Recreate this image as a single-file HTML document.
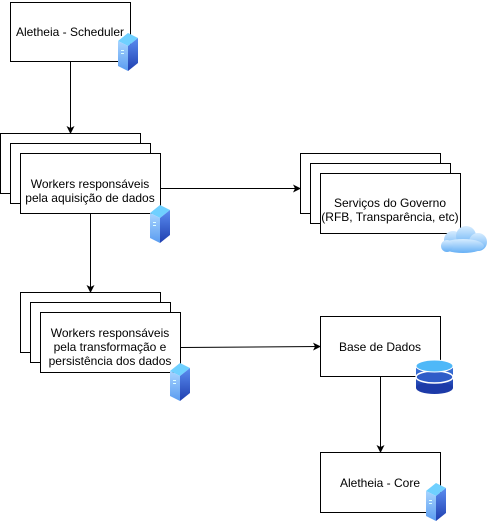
<!DOCTYPE html>
<html><head><meta charset="utf-8"><style>body{margin:0;background:#fff}svg{display:block}text{font-family:"Liberation Sans",sans-serif;font-size:12px;fill:#000}</style></head><body>
<svg width="489" height="524" viewBox="0 0 489 524" xmlns="http://www.w3.org/2000/svg">
<defs>
<linearGradient id="sv" x1="0" y1="0" x2="0" y2="1"><stop offset="0" stop-color="#5b8df0"/><stop offset="1" stop-color="#1f3fb0"/></linearGradient>
<linearGradient id="sl" x1="0" y1="0" x2="0" y2="1"><stop offset="0" stop-color="#a8d4ff"/><stop offset="1" stop-color="#5a9cf0"/></linearGradient>
<linearGradient id="cl" x1="0" y1="0" x2="0" y2="1"><stop offset="0" stop-color="#d6ecff"/><stop offset="1" stop-color="#66b0f5"/></linearGradient>
<linearGradient id="db" x1="0" y1="0" x2="0" y2="1"><stop offset="0" stop-color="#3f7be0"/><stop offset="1" stop-color="#1c3aa8"/></linearGradient>
<g id="srv"><polygon points="0,8 10,0 20,5 10,13" fill="#6fd0ff"/><polygon points="0,8 10,13 10,38 0,33" fill="url(#sl)"/><polygon points="10,13 20,5 20,30 10,38" fill="url(#sv)"/><rect x="3" y="17" width="3" height="1" fill="#dff"/><rect x="3" y="20" width="3" height="1" fill="#dff"/></g>
<marker id="ar" markerWidth="8" markerHeight="8" refX="7" refY="4" orient="auto" markerUnits="userSpaceOnUse"><path d="M0,0 L8,4 L0,8 L2,4z" fill="#000"/></marker>
</defs>
<g fill="#fff" stroke="#000" stroke-width="1">
<rect x="10.5" y="2.5" width="120" height="59"/>
<rect x="0.5" y="133.5" width="140" height="60"/><rect x="10.5" y="143.5" width="140" height="60"/><rect x="20.5" y="153.5" width="140" height="60"/>
<rect x="300.5" y="153.5" width="140" height="60"/><rect x="310.5" y="163.5" width="140" height="60"/><rect x="320.5" y="173.5" width="140" height="60"/>
<rect x="20.5" y="292.5" width="140" height="60"/><rect x="30.5" y="302.5" width="140" height="60"/><rect x="40.5" y="312.5" width="140" height="60"/>
<rect x="320.5" y="316.5" width="120" height="60"/>
<rect x="320.5" y="452.5" width="120" height="60"/>
</g>
<g stroke="#000" fill="none" marker-end="url(#ar)">
<line x1="70.5" y1="62" x2="70.5" y2="133"/>
<line x1="161" y1="188.5" x2="300" y2="188.5"/>
<line x1="90.5" y1="214" x2="90.5" y2="292"/>
<line x1="181" y1="347.5" x2="320" y2="346.5"/>
<line x1="380.5" y1="377" x2="380.5" y2="452"/>
</g>
<text x="70" y="36" text-anchor="middle">Aletheia - Scheduler</text>
<text x="90" y="188" text-anchor="middle">Workers responsáveis</text><text x="90" y="202" text-anchor="middle">pela aquisição de dados</text>
<text x="390" y="207" text-anchor="middle">Serviços do Governo</text><text x="390" y="221" text-anchor="middle">(RFB, Transparência, etc)</text>
<text x="110" y="337" text-anchor="middle">Workers responsáveis</text><text x="110" y="351" text-anchor="middle">pela transformação e</text><text x="110" y="365" text-anchor="middle">persistência dos dados</text>
<text x="380" y="351" text-anchor="middle">Base de Dados</text>
<text x="380" y="487" text-anchor="middle">Aletheia - Core</text>
<use href="#srv" x="118" y="33"/>
<use href="#srv" x="150" y="205"/>
<use href="#srv" x="170" y="363"/>
<use href="#srv" x="426" y="483"/>
<g fill="url(#cl)"><circle cx="453" cy="240" r="9"/><circle cx="466" cy="236" r="10"/><circle cx="478" cy="242" r="9"/><ellipse cx="463" cy="246" rx="21" ry="7"/><circle cx="447" cy="246" r="6"/></g>
<g><rect x="416" y="366" width="37" height="22" fill="url(#db)"/><ellipse cx="434.5" cy="388" rx="18.5" ry="6" fill="#1c3aa8"/><ellipse cx="434.5" cy="377" rx="18.5" ry="6" fill="#2f5cc8" stroke="#fff" stroke-width="1.5"/><ellipse cx="434.5" cy="366" rx="18.5" ry="6" fill="#4fb8f8" stroke="#fff" stroke-width="1"/></g>
</svg>
</body></html>
